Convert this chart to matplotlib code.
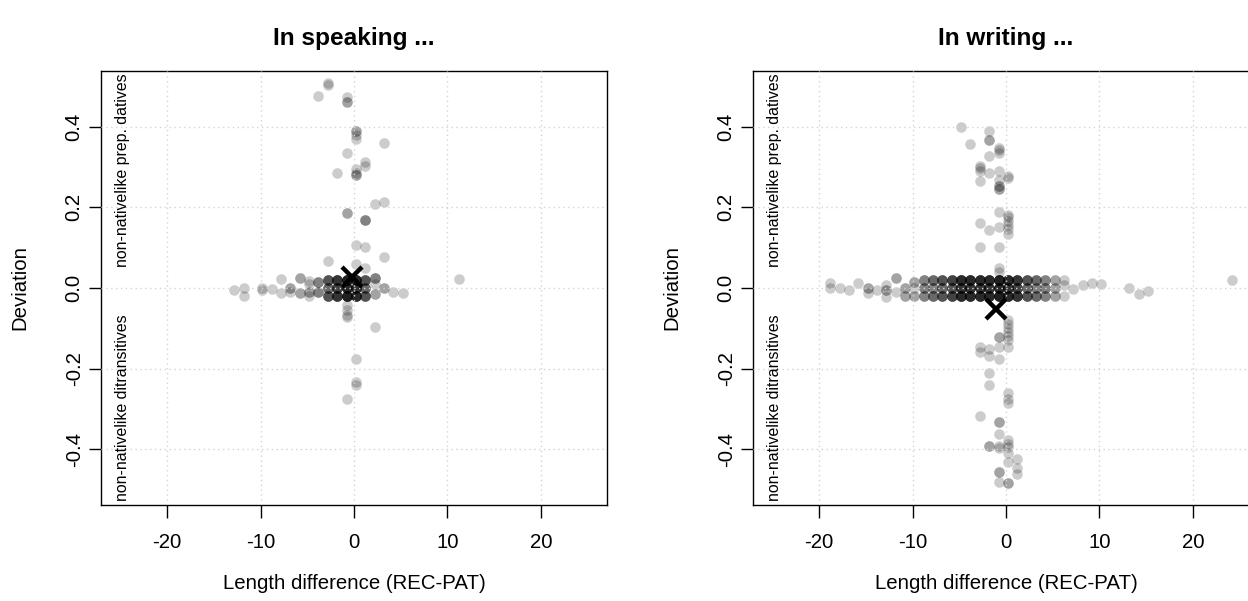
import numpy as np
import matplotlib.pyplot as plt

plt.rcParams['font.family'] = ['Liberation Sans', 'DejaVu Sans']

# speaking: length difference, deviation, number of overlapping points
sp_x = [-12.8, -11.8, -11.8, -9.8, -9.8, -8.8, -7.8, -7.8, -6.8, -6.8,
        -5.8, -5.8, -4.8, -4.8, -4.8, -4.8, -3.8, -3.8,
        -2.8, -2.8, -2.8, -1.8, -1.8, -1.8, -0.8, -0.8, -0.8,
        0.2, 0.2, 0.2, 1.2, 1.2, 1.2, 2.2, 2.2, 2.2, 3.2, 4.2, 5.2, 11.2,
        -0.8, -0.8, -0.8, -0.8, 2.2,
        -2.8, -2.8, -3.8, -0.8, -0.8, 0.2, 0.2, 0.2, 3.2, -0.8, 1.2, 1.2,
        -1.8, 0.2, 0.2, 0.2, 2.2, 3.2, -0.8, 1.2, 0.2, 1.2, 3.2, -2.8,
        0.2, 1.2,
        0.2, 0.2, 0.2, -0.8]
sp_y = [-0.006, 0.0, -0.02, 0.0, -0.005, -0.003, 0.022, -0.012, 0.0, -0.01,
        0.025, -0.012, 0.018, 0.01, -0.01, -0.02, 0.016, -0.01,
        0.02, 0.0, -0.02, 0.02, 0.0, -0.02, 0.02, 0.0, -0.02,
        0.02, 0.0, -0.02, 0.02, 0.0, -0.02, 0.025, 0.01, -0.015, 0.0, -0.01, -0.012, 0.022,
        -0.042, -0.054, -0.067, -0.071, -0.096,
        0.509, 0.503, 0.476, 0.474, 0.46, 0.39, 0.38, 0.37, 0.359, 0.334, 0.313, 0.302,
        0.284, 0.294, 0.284, 0.28, 0.207, 0.212, 0.186, 0.168, 0.107, 0.102, 0.078, 0.066,
        0.06, 0.049,
        -0.175, -0.232, -0.24, -0.274]
sp_n = [1, 1, 1, 1, 1, 1, 1, 1, 2, 1,
        2, 2, 1, 1, 2, 1, 3, 3,
        5, 4, 5, 7, 6, 7, 9, 8, 9,
        8, 7, 8, 5, 4, 5, 3, 1, 2, 2, 1, 1, 1,
        1, 1, 1, 1, 1,
        1, 1, 1, 1, 2, 2, 1, 1, 1, 1, 1, 1,
        1, 1, 1, 2, 1, 1, 2, 3, 1, 1, 1, 1,
        1, 1,
        1, 1, 1, 1]
sp_mean = (-0.2, 0.027)

# writing
wr_x = [-18.8, -18.8, -17.8, -16.8, -15.8, -14.8, -14.8, -13.8,
        -12.8, -12.8, -12.8, -11.8, -11.8, -10.8, -10.8,
        -9.8, -9.8, -9.8, -8.8, -8.8, -8.8, -7.8, -7.8, -7.8,
        -6.8, -6.8, -6.8, -5.8, -5.8, -5.8, -4.8, -4.8, -4.8,
        -3.8, -3.8, -3.8, -2.8, -2.8, -2.8, -1.8, -1.8, -1.8,
        -0.8, -0.8, -0.8, 0.2, 0.2, 0.2, 1.2, 1.2, 1.2,
        2.2, 2.2, 2.2, 3.2, 3.2, 3.2, 4.2, 4.2, 4.2, 5.2, 5.2, 5.2,
        6.2, 6.2, 6.2, 7.2, 8.2, 9.2, 10.2, 13.2, 14.2, 15.2, 24.2,
        # upper arm
        -4.8, -1.8, -1.8, -3.8, -0.8, -0.8, -0.8, -1.8, -2.8, -2.8, -2.8,
        -1.8, -0.8, 0.2, 0.2, -0.8, -0.8, -0.8, -2.8,
        0.2, 0.2, 0.2, 0.2, 0.2, 0.2, -0.8, -2.8, -1.8, -0.8, -2.8, -0.8,
        -0.8, -0.8,
        # lower arm
        0.2, 0.2, 0.2, 0.2, 0.2, 0.2, -0.8, -0.8, 0.2, -2.8, -2.8, -1.8, -1.8,
        -0.8, -1.8, -1.8, 0.2, 0.2, 0.2, -2.8, -0.8, -0.8, -1.8, -0.8, -0.8,
        0.2, 0.2, 0.2, 0.2, 1.2, 1.2, 1.2, 0.2, -0.8, -0.8, 0.2]
wr_y = [0.012, 0.0, 0.0, -0.005, 0.013, 0.0, -0.013, -0.005,
        0.008, -0.005, -0.023, 0.026, -0.009, 0.0, -0.02,
        0.015, 0.0, -0.02, 0.02, 0.0, -0.02, 0.02, 0.0, -0.02,
        0.02, 0.0, -0.02, 0.02, 0.0, -0.02, 0.02, 0.0, -0.02,
        0.02, 0.0, -0.02, 0.02, 0.0, -0.02, 0.02, 0.0, -0.02,
        0.02, 0.0, -0.02, 0.02, 0.0, -0.02, 0.02, 0.0, -0.02,
        0.02, 0.0, -0.02, 0.02, 0.0, -0.02, 0.02, 0.0, -0.02, 0.02, 0.0, -0.02,
        0.02, 0.008, -0.02, -0.003, 0.007, 0.013, 0.011, 0.0, -0.016, -0.008, 0.02,
        0.399, 0.388, 0.366, 0.356, 0.347, 0.341, 0.334, 0.328, 0.303, 0.297, 0.289,
        0.285, 0.289, 0.278, 0.272, 0.268, 0.253, 0.245, 0.264,
        0.181, 0.175, 0.165, 0.155, 0.145, 0.135, 0.188, 0.16, 0.144, 0.152, 0.101, 0.101,
        0.049, 0.04,
        -0.079, -0.088, -0.1, -0.11, -0.12, -0.129, -0.121, -0.146, -0.147, -0.146, -0.158, -0.15, -0.168,
        -0.175, -0.21, -0.241, -0.261, -0.274, -0.285, -0.317, -0.333, -0.362, -0.392, -0.392, -0.397,
        -0.377, -0.386, -0.394, -0.409, -0.423, -0.445, -0.462, -0.431, -0.456, -0.481, -0.483]
wr_n = [1, 1, 1, 1, 1, 2, 1, 1,
        1, 2, 1, 2, 1, 2, 2,
        2, 1, 2, 3, 3, 3, 4, 3, 4,
        5, 4, 5, 6, 5, 6, 8, 7, 8,
        8, 7, 8, 8, 7, 8, 8, 7, 8,
        9, 8, 9, 8, 7, 8, 7, 6, 7,
        5, 4, 5, 4, 3, 4, 3, 3, 3, 2, 2, 2,
        1, 1, 1, 1, 1, 1, 1, 1, 1, 1, 1,
        1, 1, 2, 1, 1, 1, 1, 1, 1, 1, 1,
        1, 1, 1, 1, 1, 2, 2, 1,
        1, 1, 1, 1, 1, 1, 1, 1, 1, 1, 1, 1,
        1, 1,
        1, 1, 1, 1, 1, 1, 2, 1, 1, 1, 1, 1, 1,
        1, 1, 1, 1, 1, 1, 1, 2, 1, 2, 1, 1,
        1, 1, 1, 1, 1, 1, 1, 1, 2, 1, 2]
wr_mean = (-1.1, -0.053)

titles = ["In speaking ...", "In writing ..."]
x_ticks = [-20, -10, 0, 10, 20]
y_ticks = [-0.4, -0.2, 0.0, 0.2, 0.4]

fig = plt.figure(figsize=(12.48, 6.01), dpi=100)
W, H = 1248, 601
panels = [(sp_x, sp_y, sp_n, sp_mean), (wr_x, wr_y, wr_n, wr_mean)]
lefts = [101, 753]

for i, (xs, ys, ns, mean) in enumerate(panels):
    ax = fig.add_axes([lefts[i] / W, 1 - 505.3 / H, 506 / W, 434.6 / H])
    px = np.repeat(xs, ns)
    py = np.repeat(ys, ns)
    ax.scatter(px, py, s=58, color='black', alpha=0.2, linewidths=0, zorder=2)
    for t in x_ticks:
        ax.axvline(t, color='#d3d3d3', lw=1, ls=(0, (1, 2.5)), zorder=3)
    for t in y_ticks:
        ax.axhline(t, color='#d3d3d3', lw=1, ls=(0, (1, 2.5)), zorder=3)
    ax.plot(mean[0], mean[1], marker='x', color='black', markersize=15,
            markeredgewidth=3.2, zorder=4)
    ax.set_xlim(-27.08, 27.08)
    ax.set_ylim(-0.5385, 0.5385)
    ax.set_xticks(x_ticks)
    ax.set_yticks(y_ticks)
    ax.set_xticklabels([str(t) for t in x_ticks])
    ax.set_yticklabels(['%.1f' % t for t in y_ticks])
    ax.tick_params(axis='both', length=9, width=1, labelsize=14.7, direction='out')
    ax.tick_params(axis='x', pad=11)
    ax.tick_params(axis='y', pad=3.5, labelrotation=90)
    for lab in ax.get_yticklabels():
        lab.set_va('center')
    for sp in ax.spines.values():
        sp.set_linewidth(1.0)
    ax.set_xlabel("Length difference (REC-PAT)", fontsize=14.7)
    ax.xaxis.label.set_va('center')
    ax.xaxis.set_label_coords(0.5, -0.179)
    ax.set_ylabel("Deviation", fontsize=14.7)
    ax.yaxis.label.set_va('center')
    ax.yaxis.set_label_coords(-0.160, 0.5)
    ax.text(0.5, 1.059, titles[i], transform=ax.transAxes, ha='center',
            va='baseline', fontsize=17.6, fontweight='bold')
    ax.text(-24.8, 0.533, "non-nativelike prep. datives", rotation=90,
            ha='center', va='top', fontsize=11.4)
    ax.text(-24.8, -0.527, "non-nativelike ditransitives", rotation=90,
            ha='center', va='bottom', fontsize=11.4)

fig.savefig("out.png", dpi=100)
